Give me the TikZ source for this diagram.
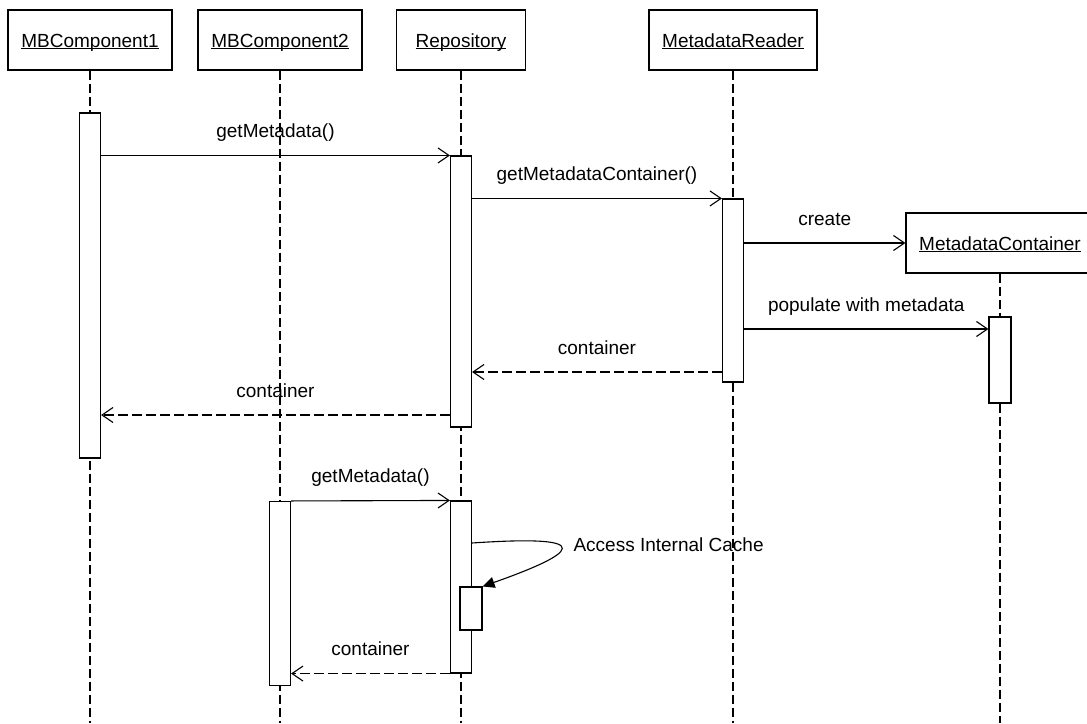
\documentclass[tikz,border=0pt]{standalone}
\usepackage{fontspec}
\setmainfont{Liberation Sans}
\usetikzlibrary{arrows.meta}
\newsavebox\objbox
\newcommand\objname[1]{\sbox\objbox{#1}\rlap{\vrule height -1pt depth 2.4pt width \wd\objbox}\usebox\objbox}
\begin{document}
\begin{tikzpicture}[x=1pt, y=-1pt, line width=1.1pt, font=\fontsize{19}{23}\selectfont,
  head/.style={draw, fill=white, minimum height=60pt, text height=14pt, text depth=0pt, inner sep=0pt},
  act/.style={draw, fill=white, minimum width=21pt, inner sep=0pt},
  life/.style={dash pattern=on 9pt off 4pt},
  call/.style={-{Straight Barb[length=11pt,width=15pt]}},
  reply/.style={call, dash pattern=on 10pt off 4pt},
  lbl/.style={midway, anchor=base, yshift=18pt, inner sep=0pt}]
\useasboundingbox (0,0) rectangle (1087,723);
\node[head, minimum width=164pt] (mbc1) at (90,40) {\objname{MBComponent1}};
\node[head, minimum width=164pt] (mbc2) at (280,40) {\objname{MBComponent2}};
\node[head, minimum width=129pt] (repo) at (461,40) {\objname{Repository}};
\node[head, minimum width=168pt] (reader) at (733,40) {\objname{MetadataReader}};
\node[head, minimum width=188pt] (cont) at (1000,243) {\objname{MetadataContainer}};
\coordinate (mbc1end) at (90,723);
\coordinate (mbc2end) at (280,723);
\coordinate (repoend) at (461,723);
\coordinate (readerend) at (733,723);
\coordinate (contend) at (1000,723);
\draw[life] (mbc1) -- (mbc1end);
\draw[life] (mbc2) -- (mbc2end);
\draw[life] (repo) -- (repoend);
\draw[life] (reader) -- (readerend);
\draw[life] (cont) -- (contend);
\node[act, minimum height=345pt] (a1) at (90,285.5) {};
\node[act, minimum height=271pt] (r1) at (461,291.5) {};
\node[act, minimum height=183pt] (m1) at (733,290.5) {};
\node[act, minimum width=22pt, minimum height=86pt] (c1) at (1000,360) {};
\node[act, minimum height=184pt] (b1) at (280,593.5) {};
\node[act, minimum height=172pt] (r2) at (461,587) {};
\node[act, minimum width=22pt, minimum height=43pt] (r3) at (471,608.5) {};
\draw[call] (a1.east |- r1.north) -- (r1.north west) node[lbl] {getMetadata()};
\draw[call] (r1.east |- m1.north) -- (m1.north west) node[lbl] {getMetadataContainer()};
\draw[call] (m1.east |- cont.west) -- (cont.west) node[lbl] {create};
\draw[call] (m1.east |- 0,329) -- (c1.west |- 0,329) node[lbl] {populate with metadata};
\draw[reply] (m1.west |- 0,372) -- (r1.east |- 0,372) node[lbl] {container};
\draw[reply] (r1.west |- 0,415) -- (a1.east |- 0,415) node[lbl] {container};
\draw[call] (b1.north east) -- (r2.north west) node[lbl] {getMetadata()};
\draw[-{Triangle[length=12pt,width=11pt]}] (r2.east |- 0,543) .. controls (575,536) and (600,545) .. (r3.north east);
\node[anchor=base west, inner sep=0pt] (cache) at (573,551) {Access Internal Cache};
\draw[reply] (r2.south west) -- (b1.east |- r2.south) node[lbl] {container};
\end{tikzpicture}
\end{document}
